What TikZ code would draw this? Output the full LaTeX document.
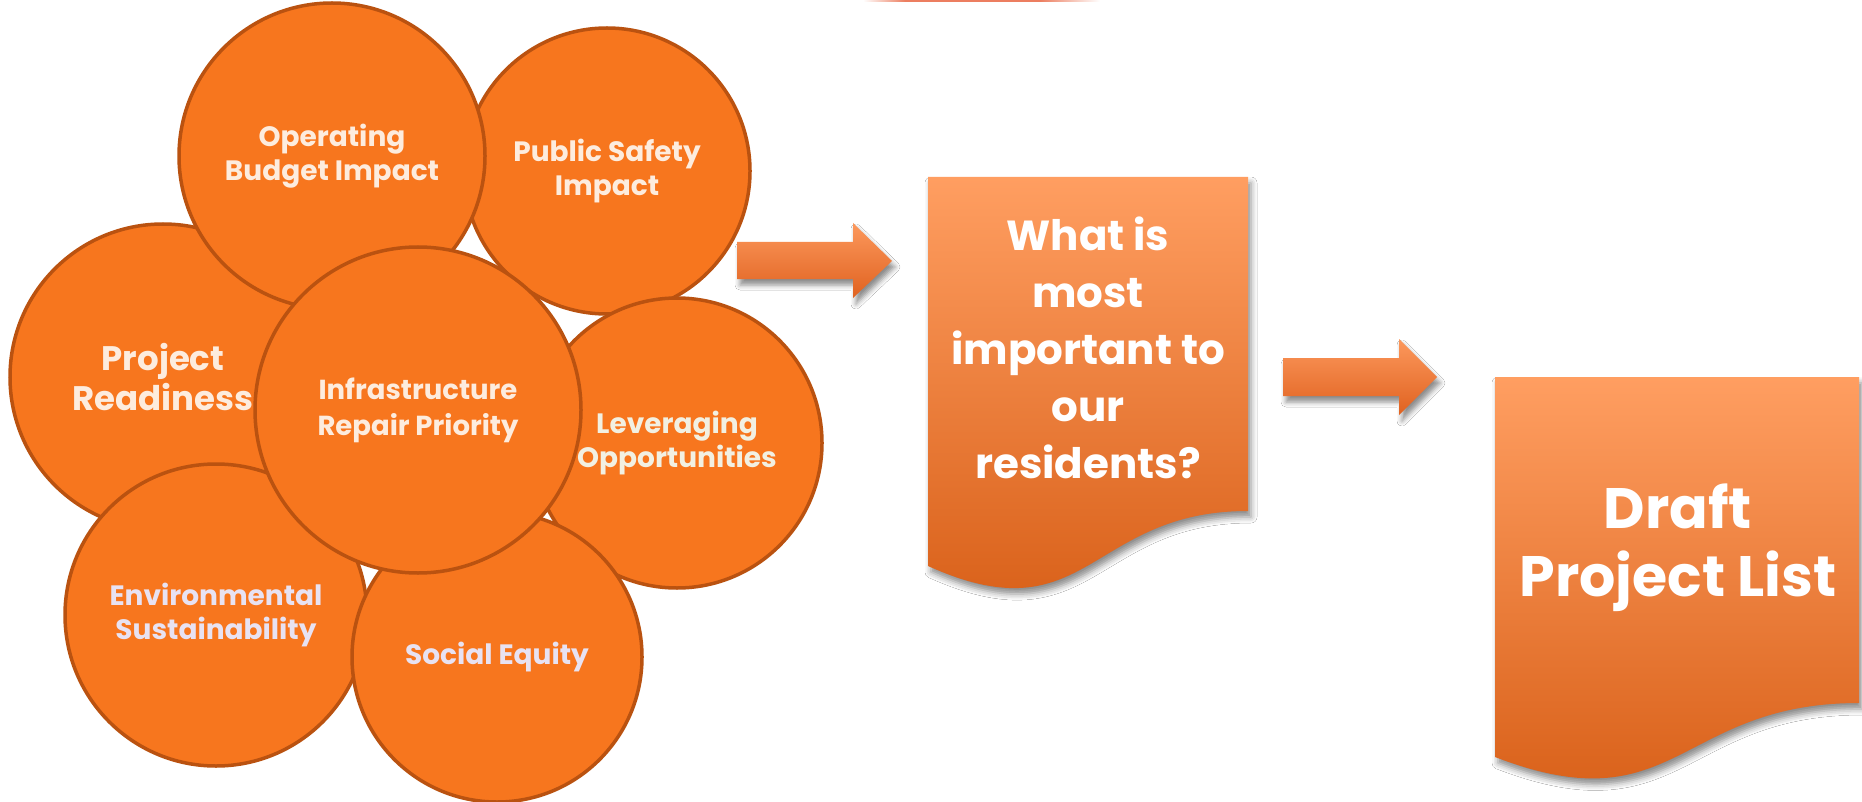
\documentclass[tikz,border=0pt]{standalone}
\usepackage{fontspec}
\setmainfont{Poppins}
\usetikzlibrary{shadows.blur}
\definecolor{circfill}{RGB}{247,118,30}
\definecolor{circline}{RGB}{186,82,16}
\definecolor{doctop}{RGB}{255,158,97}
\definecolor{docbot}{RGB}{214,92,20}
\definecolor{arrtop}{RGB}{252,152,92}
\definecolor{arrbot}{RGB}{224,98,32}
\definecolor{txtA}{RGB}{253,236,222}
\definecolor{txtB}{RGB}{232,226,242}
\definecolor{txtC}{RGB}{242,240,226}
\definecolor{topline}{RGB}{236,126,96}
\begin{document}
\begin{tikzpicture}[x=1pt,y=-1pt,
  bubble/.style={circle, draw=circline, line width=3.5pt, fill=circfill,
    minimum size=#1, inner sep=0pt, align=center,
    font=\fontsize{28}{34}\selectfont\bfseries},
  docshape/.style={top color=doctop, bottom color=docbot, draw=none,
    blur shadow={shadow xshift=3pt, shadow yshift=-6pt, shadow blur radius=6pt, shadow opacity=45}},
  blockarrow/.style={top color=arrtop, bottom color=arrbot, draw=none,
    blur shadow={shadow xshift=3pt, shadow yshift=-6pt, shadow blur radius=5pt, shadow opacity=45}},
  doctext/.style={text=white, align=center, font=\bfseries}]
\useasboundingbox (0,0) rectangle (1862,802);
\fill[white] (0,0) rectangle (1862,802);

% top sliver
\shade[left color=white, right color=topline, draw=none] (863,0) rectangle (905,2);
\fill[topline] (905,0) rectangle (1040,2);
\shade[left color=topline, right color=white, draw=none] (1040,0) rectangle (1100,2);

% circles
\node[bubble=286pt, text=txtA] (safety) at (607,171) {Public Safety\\Impact};
\node[bubble=290pt, text=txtC] (lever) at (677,443) {Leveraging\\Opportunities};
\node[bubble=306pt, text=txtA, font=\fontsize{34}{40}\selectfont\bfseries] (ready) at (163,377) {Project\\Readiness};
\node[bubble=306pt, text=txtA] (budget) at (332,156) {Operating\\Budget Impact};
\node[bubble=302pt, text=txtB] (env) at (216,615) {Environmental\\Sustainability};
\node[bubble=290pt, text=txtB] (equity) at (497,657) {Social Equity};
\node[bubble=326pt, text=txtA, font=\fontsize{27.5}{36}\selectfont\bfseries] (infra) at (418,410) {Infrastructure\\Repair Priority};

% arrow 1
\coordinate (a1s) at (737,260.5);
\coordinate (a1e) at (892,261);
\path[blockarrow] (737,242) -- (853,242) -- (853,223) -- (a1e) -- (853,298) -- (853,279) -- (737,279) -- cycle;

% document 1
\path[docshape] (928,177) -- (1248,177) -- (1248,511)
  .. controls (1088,511) and (1088,638) .. (928,566) -- cycle;
\node[doctext, font=\fontsize{42}{57}\selectfont\bfseries] (question) at (1088,348)
  {What is\\most\\important to\\our\\residents?};

% arrow 2
\coordinate (a2s) at (1283,377);
\coordinate (a2e) at (1437,377);
\path[blockarrow] (1283,358) -- (1399,358) -- (1399,339) -- (a2e) -- (1399,415) -- (1399,396) -- (1283,396) -- cycle;

% document 2
\path[docshape] (1495,377) -- (1859,377) -- (1859,703)
  .. controls (1677,703) and (1677,827) .. (1495,757) -- cycle;
\node[doctext, font=\fontsize{57}{68}\selectfont\bfseries] (draft) at (1678,548)
  {Draft\\Project List};
\end{tikzpicture}
\end{document}
